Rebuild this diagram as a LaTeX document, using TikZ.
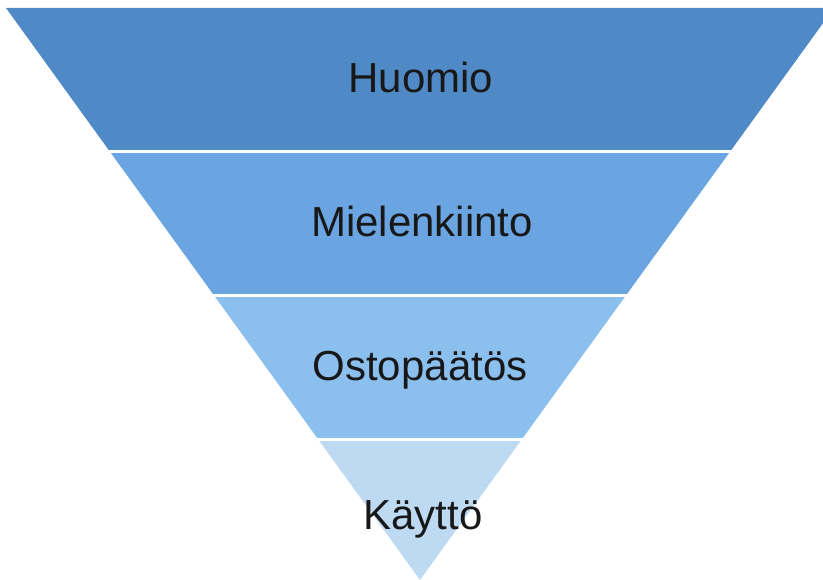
\documentclass[tikz,border=0pt]{standalone}
\usepackage{fontspec}
\setmainfont{Liberation Sans}
\usetikzlibrary{positioning,calc}

\definecolor{bandA}{RGB}{79,138,198}
\definecolor{bandB}{RGB}{106,165,226}
\definecolor{bandC}{RGB}{139,191,238}
\definecolor{bandD}{RGB}{189,218,242}
\definecolor{labeltext}{RGB}{24,24,24}

\begin{document}
\begin{tikzpicture}[
		x=1pt, y=-1pt,
		band/.style={draw=white, line width=2.5pt, line join=miter},
		label/.style={anchor=base, text=labeltext, font=\fontsize{42}{48}\selectfont, inner sep=0pt}
		]
		
		\useasboundingbox (0,0) rectangle (823,580);
		\clip (0,0) rectangle (823,580);
		
		% ======================
		% Funnel bands
		% ======================
		\fill[bandA] (6,8) -- (834,8) -- (730.2,151.5) -- (109.8,151.5) -- cycle;
		\fill[bandB] (109.8,151.5) -- (730.2,151.5) -- (625.9,295.5) -- (214.1,295.5) -- cycle;
		\fill[bandC] (214.1,295.5) -- (625.9,295.5) -- (521.7,439.5) -- (318.3,439.5) -- cycle;
		\fill[bandD] (318.3,439.5) -- (521.7,439.5) -- (420,580) -- cycle;
		
		% ======================
		% Separators
		% ======================
		\draw[band] (100,151.5) -- (740,151.5);
		\draw[band] (200,295.5) -- (640,295.5);
		\draw[band] (300,439.5) -- (540,439.5);
		
		% ======================
		% Labels
		% ======================
		\node[label] (huomio) at (421,93) {Huomio};
		\node[label] (mielenkiinto) at (422,237) {Mielenkiinto};
		\node[label] (ostopaatos) at (420,381) {Ostopäätös};
		\node[label] (kaytto) at (423,529) {Käyttö};
		
	\end{tikzpicture}
\end{document}
